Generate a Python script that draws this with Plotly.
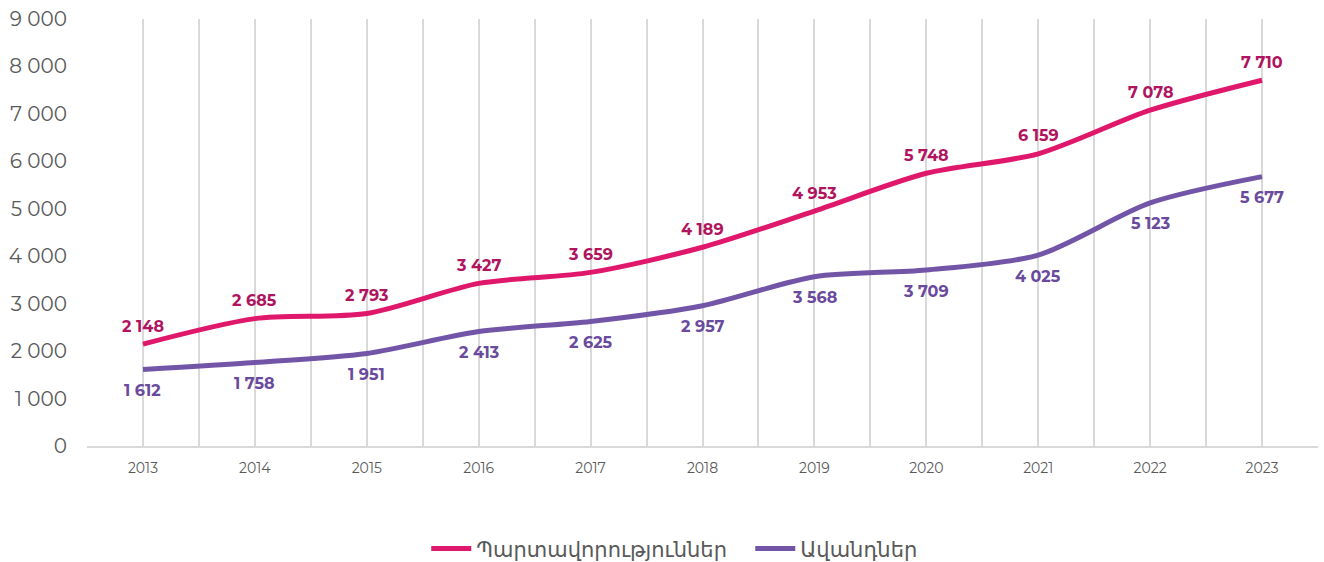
import plotly.graph_objects as go

years = [2013, 2014, 2015, 2016, 2017, 2018, 2019, 2020, 2021, 2022, 2023]
loans = [2148, 2685, 2793, 3427, 3659, 4189, 4953, 5748, 6159, 7078, 7710]
deposits = [1612, 1758, 1951, 2413, 2625, 2957, 3568, 3709, 4025, 5123, 5677]

names = ["Պարտավորություններ", "Ավանդներ"]
line_colors = ["#E0186C", "#7355A8"]
label_colors = ["#B0145E", "#6A4A9C"]


def fmt(v):
    return f"{v:,}".replace(",", " ")


FONT = "Montserrat, Noto Sans, DejaVu Sans, sans-serif"

fig = go.Figure()
annotations = []
for vals, name, lc, tc, shift in [
    (loans, names[0], line_colors[0], label_colors[0], 18),
    (deposits, names[1], line_colors[1], label_colors[1], -21),
]:
    fig.add_trace(go.Scatter(
        x=years, y=vals, name=name,
        mode="lines",
        line=dict(color=lc, width=5, shape="spline", smoothing=0.8),
    ))
    for x, v in zip(years, vals):
        annotations.append(dict(
            x=x, y=v, text=fmt(v), showarrow=False, yshift=shift,
            font=dict(family=FONT, size=16, color=tc, weight="bold"),
        ))

fig.update_layout(
    width=1324, height=562,
    margin=dict(l=87, r=6, t=19, b=116, autoexpand=False),
    plot_bgcolor="white", paper_bgcolor="white",
    separators=". ",
    font=dict(family=FONT, color="#595959"),
    annotations=annotations,
    showlegend=True,
    legend=dict(orientation="h", x=0.2756, xanchor="left", y=-0.241, yanchor="middle",
                font=dict(size=21, color="#595959"), itemwidth=40,
                entrywidth=269, entrywidthmode="pixels"),
    xaxis=dict(
        range=[2012.5, 2023.5], tickvals=years, ticktext=[str(y) for y in years],
        showgrid=False, zeroline=False, automargin=False,
        showline=True, linecolor="#D9D9D9", linewidth=1.5,
        tickfont=dict(size=14, color="#595959"), ticks="", ticklabelstandoff=8,
        minor=dict(dtick=0.5, tick0=2012.5, showgrid=True, gridcolor="#D9D9D9", gridwidth=1.5),
    ),
    yaxis=dict(
        range=[0, 9000], dtick=1000, tickformat=",",
        showgrid=False, zeroline=False, showline=False, automargin=False,
        tickfont=dict(size=20, color="#595959"), ticklabelstandoff=19,
    ),
)

# the page's default body margin would shift the whole figure
fig.write_html("out.html", config={"displayModeBar": False},
               post_script="document.body.style.margin='0';")
